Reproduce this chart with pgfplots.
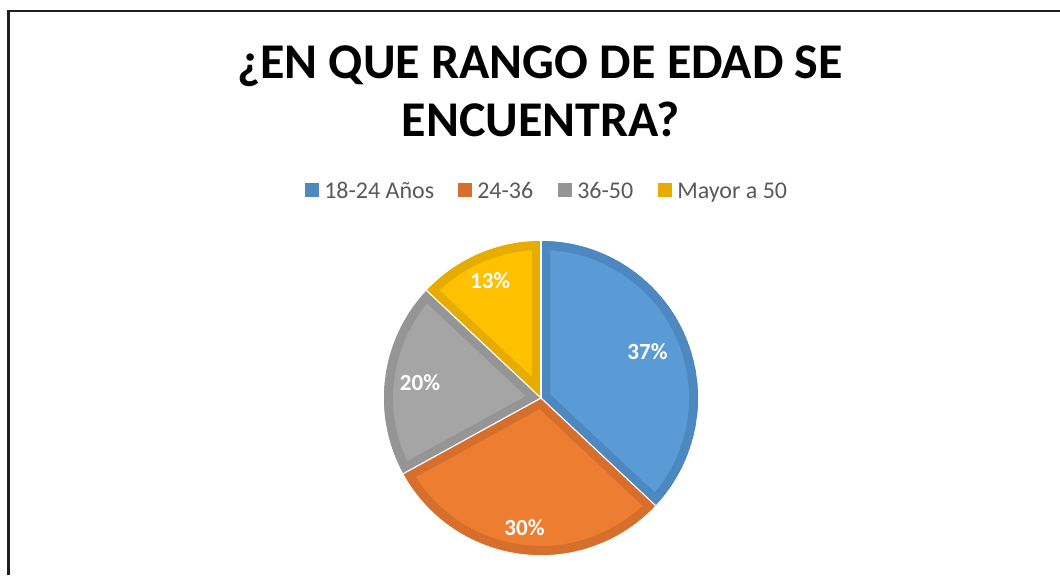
\documentclass[border=0pt]{standalone}
\usepackage{pgfplots}
\pgfplotsset{compat=1.18}
\usepackage{pgfplotstable}
\usepackage{fontspec}
\setmainfont{Carlito}

% slice colours (fill / darker outline)
\definecolor{pieFill0}{HTML}{5B9BD5}\definecolor{pieEdge0}{HTML}{4E88C0}
\definecolor{pieFill1}{HTML}{ED7D31}\definecolor{pieEdge1}{HTML}{D66F2B}
\definecolor{pieFill2}{HTML}{A5A5A5}\definecolor{pieEdge2}{HTML}{959595}
\definecolor{pieFill3}{HTML}{FFC000}\definecolor{pieEdge3}{HTML}{E6AC00}
\definecolor{legtext}{HTML}{595959}

% value in %, lr = label distance from centre (px)
\pgfplotstableread[col sep=comma]{
label,value,lr
18-24 Años,37,116
24-36,30,131
36-50,20,122
Mayor a 50,13,128
}\piedata

% 1px = 0.75pt, pie centre (541,398), radius 157px
\newcommand\piecentre{(axis cs:541,398)}
\newcommand\pieWedge[1]{%
  \pgfplotsextra{%
    \edef\sA{\csname pieAS#1\endcsname}\edef\eA{\csname pieAE#1\endcsname}%
    \begin{scope}
      \clip \piecentre -- ++(\sA:117.75pt) arc[start angle=\sA,end angle=\eA,radius=117.75pt] -- cycle;
      \fill[pieFill#1] \piecentre -- ++(\sA:117.75pt) arc[start angle=\sA,end angle=\eA,radius=117.75pt] -- cycle;
      \draw[pieEdge#1,line width=13.5pt] \piecentre -- ++(\sA:117.75pt) arc[start angle=\sA,end angle=\eA,radius=117.75pt] -- cycle;
    \end{scope}
  }%
}
\newcommand\pieLabel[1]{%
  \pgfplotsextra{%
    \path \piecentre ++(\csname pieAM#1\endcsname:\csname pieR#1\endcsname pt)
      node[text=white,font=\fontsize{17.3}{20}\selectfont\bfseries,inner sep=0pt]
      {\csname pieV#1\endcsname\%};
  }%
}
\newcommand\pieLegend[3]{%
  \fill[pieEdge#1] (axis cs:#2,183) rectangle (axis cs:#2+14,197);
  \node[anchor=base west,inner sep=0pt,text=legtext,font=\fontsize{18}{22}\selectfont]
    at (axis cs:#3,198) {\csname pieL#1\endcsname};
}

\begin{document}
\begin{tikzpicture}
\xdef\cum{0}%
\foreach \i in {0,...,3}{%
  \pgfplotstablegetelem{\i}{value}\of\piedata
  \let\v\pgfplotsretval
  \pgfmathsetmacro\a{90-3.6*\cum}%
  \pgfmathsetmacro\b{90-3.6*(\cum+\v)}%
  \pgfmathsetmacro\m{(\a+\b)/2}%
  \expandafter\xdef\csname pieAS\i\endcsname{\a}%
  \expandafter\xdef\csname pieAE\i\endcsname{\b}%
  \expandafter\xdef\csname pieAM\i\endcsname{\m}%
  \expandafter\xdef\csname pieV\i\endcsname{\v}%
  \pgfplotstablegetelem{\i}{lr}\of\piedata
  \pgfmathsetmacro\r{0.75*\pgfplotsretval}%
  \expandafter\xdef\csname pieR\i\endcsname{\r}%
  \pgfplotstablegetelem{\i}{label}\of\piedata
  \expandafter\xdef\csname pieL\i\endcsname{\pgfplotsretval}%
  \pgfmathsetmacro\c{\cum+\v}%
  \xdef\cum{\c}%
}
\begin{axis}[
  width=795pt, height=431.25pt, scale only axis,
  xmin=0, xmax=1060, ymin=0, ymax=575, y dir=reverse,
  hide axis, clip=false,
]
  % chart frame
  \draw[line width=1.7pt,color=black!88] (axis cs:8.5,575) -- (axis cs:8.5,11) -- (axis cs:1060,11);

  % title
  \node[anchor=base,inner sep=0pt,font=\fontsize{37.5}{44}\selectfont\bfseries]
    at (axis cs:540,78) {¿EN QUE RANGO DE EDAD SE};
  \node[anchor=base,inner sep=0pt,font=\fontsize{37.5}{44}\selectfont\bfseries]
    at (axis cs:541,136) {ENCUENTRA?};

  % legend
  \pieLegend{0}{305}{324}
  \pieLegend{1}{458}{477}
  \pieLegend{2}{558}{577}
  \pieLegend{3}{658}{677}

  % slices
  \pieWedge{0}\pieWedge{1}\pieWedge{2}\pieWedge{3}
  \pgfplotsextra{%
    \foreach \k in {0,...,3}{%
      \draw[white,line width=0.9pt] \piecentre -- ++(\csname pieAS\k\endcsname:117.75pt);
    }%
  }
  \pieLabel{0}\pieLabel{1}\pieLabel{2}\pieLabel{3}

  \coordinate (bl) at (axis cs:0,575);
  \coordinate (tr) at (axis cs:1060,0);
\end{axis}
\pgfresetboundingbox
\path[use as bounding box] (bl) rectangle (tr);
\end{tikzpicture}
\end{document}
